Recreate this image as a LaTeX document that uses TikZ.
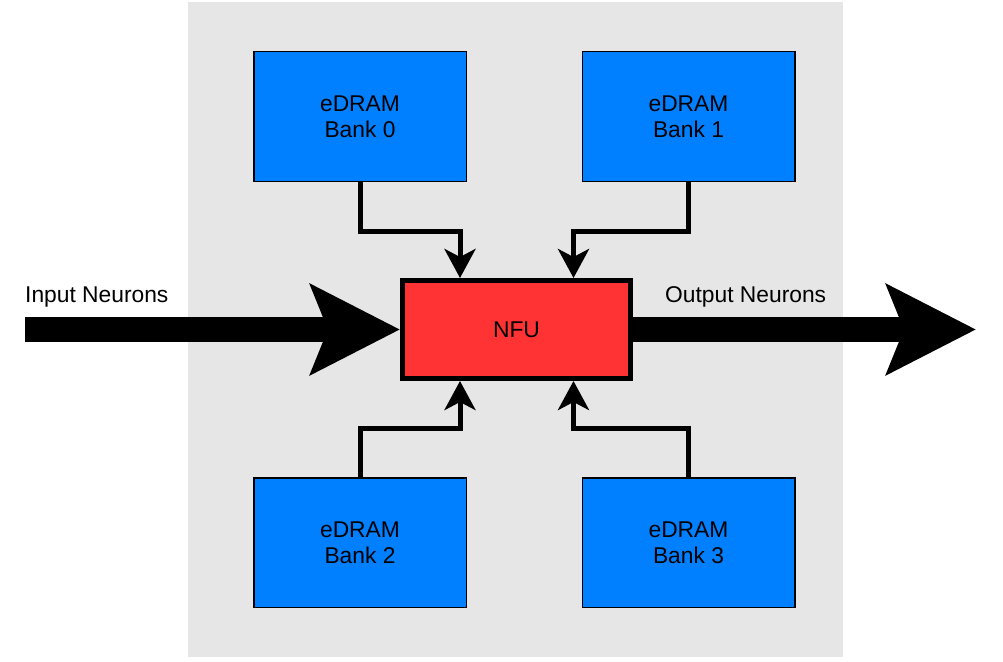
\documentclass[tikz,border=0pt]{standalone}
\usepackage{fontspec}
\setmainfont{Liberation Sans}
\usetikzlibrary{arrows.meta,calc}
\definecolor{bggray}{RGB}{230,230,230}
\definecolor{bankblue}{RGB}{0,128,255}
\definecolor{nfured}{RGB}{255,51,51}
\tikzset{
  bank/.style={draw=black,line width=1.5pt,fill=bankblue,minimum width=212.5pt,minimum height=129.5pt,inner sep=0pt,align=center,font=\fontsize{22.8}{25.7}\selectfont},
  nfubox/.style={draw=black,line width=5pt,fill=nfured,minimum width=228pt,minimum height=98pt,inner sep=0pt,font=\fontsize{22.8}{25.7}\selectfont},
  feed/.style={line width=5pt,-{Stealth[length=29pt,width=31pt,inset=8pt]}},
  bigarrow/.style={line width=25pt,-{Stealth[length=89pt,width=89pt,inset=17pt]}},
  lbl/.style={anchor=base west,inner sep=0pt,font=\fontsize{22.8}{25.7}\selectfont}
}
\begin{document}
\begin{tikzpicture}[x=1pt,y=-1pt]
\useasboundingbox (0,0) rectangle (1003,661);
\fill[bggray] (188,2) rectangle (843,657);
\node[bank] (bank0) at (360,116.5) {eDRAM\\Bank 0};
\node[bank] (bank1) at (688.5,116.5) {eDRAM\\Bank 1};
\node[bank] (bank2) at (360,542.5) {eDRAM\\Bank 2};
\node[bank] (bank3) at (688.5,542.5) {eDRAM\\Bank 3};
\node[nfubox] (nfu) at (516.5,329.5) {NFU};
\coordinate (inL) at (25,329.5);
\coordinate (outR) at (976,329.5);
\draw[bigarrow] (inL) -- (nfu.west);
\draw[bigarrow] (nfu.east) -- (outR);
\node[lbl] (inlbl) at (25,302) {Input Neurons};
\node[lbl] (outlbl) at (665,302) {Output Neurons};
\draw[feed] (bank0.south) -- ++(0,49) -| ($(nfu.north)+(-56.5,0)$);
\draw[feed] (bank1.south) -- ++(0,49) -| ($(nfu.north)+(57,0)$);
\draw[feed] (bank2.north) -- ++(0,-49) -| ($(nfu.south)+(-56.5,0)$);
\draw[feed] (bank3.north) -- ++(0,-49) -| ($(nfu.south)+(57,0)$);
\end{tikzpicture}
\end{document}
